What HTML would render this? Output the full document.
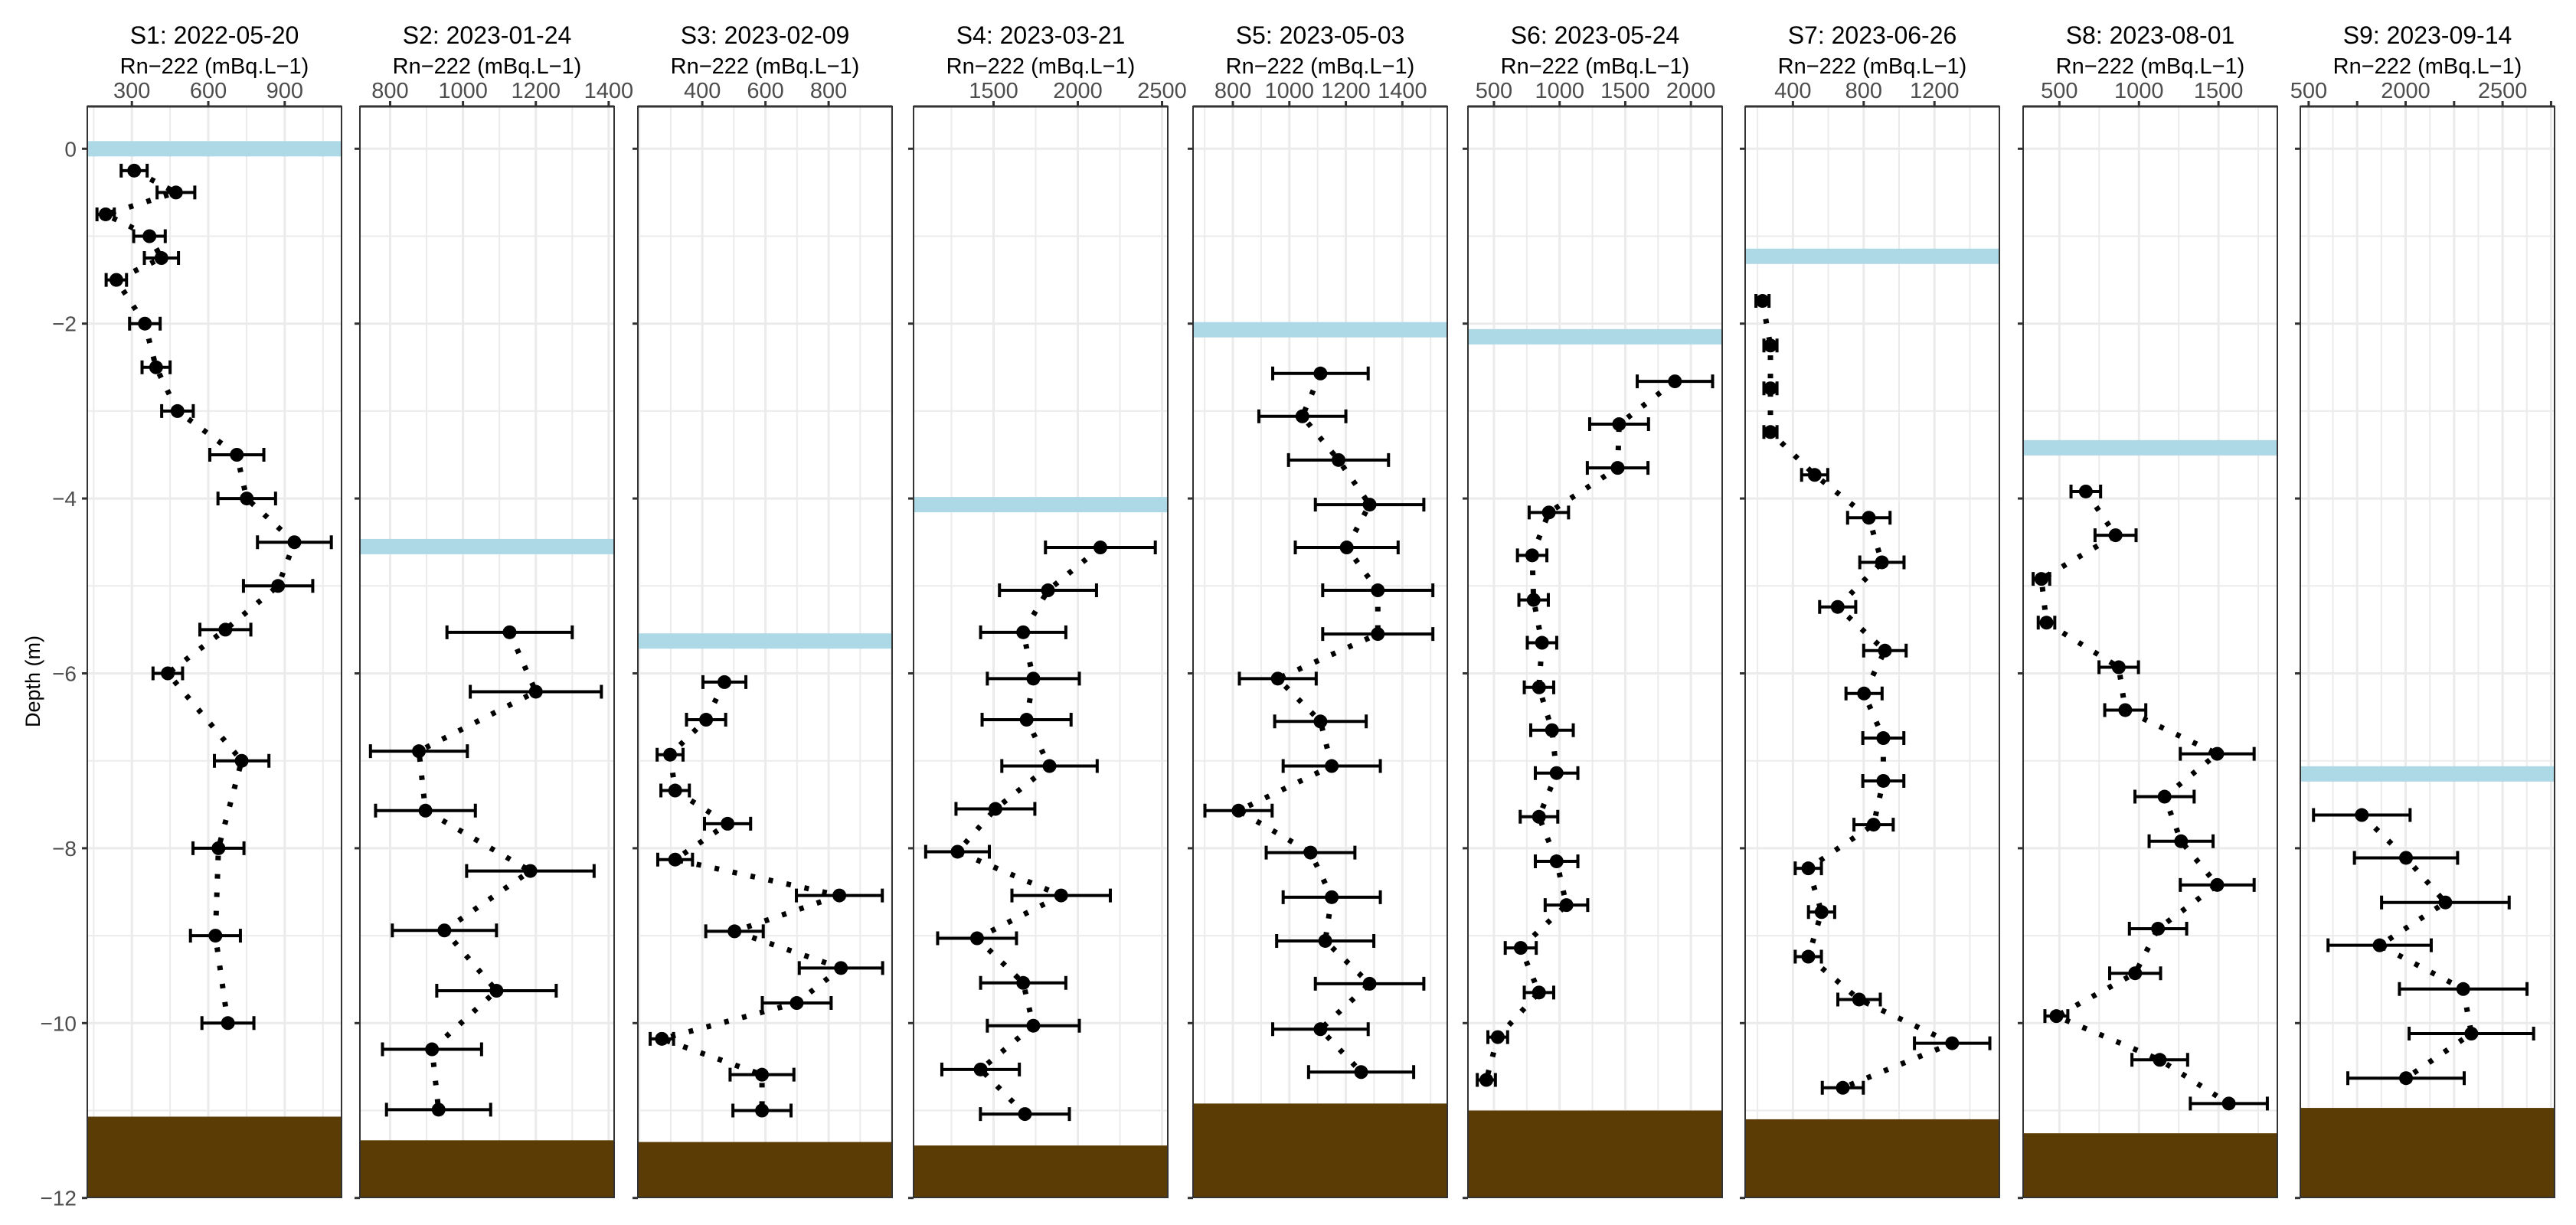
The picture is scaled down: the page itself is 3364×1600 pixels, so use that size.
<!DOCTYPE html>
<html><head><meta charset="utf-8">
<style>
html,body{margin:0;padding:0;background:#fff;}
svg{display:block;font-family:"Liberation Sans",Arial,sans-serif;}
</style></head>
<body>
<svg id="chart" width="3364" height="1600" viewBox="0 0 3364 1600" xmlns="http://www.w3.org/2000/svg">
<text x="0" y="0" transform="translate(52,890) rotate(-90)" text-anchor="middle" font-size="27" fill="#000">Depth (m)</text>
<g id="yaxis"></g>
<g id="panels"></g>
</svg>
<script>
// ---- data (depth in m, Rn-222 in mBq/L, error half-width) ----
const panelTitles = ["S1: 2022-05-20","S2: 2023-01-24","S3: 2023-02-09","S4: 2023-03-21","S5: 2023-05-03","S6: 2023-05-24","S7: 2023-06-26","S8: 2023-08-01","S9: 2023-09-14"];
const waterSurface = [0, -4.55, -5.63, -4.07, -2.07, -2.15, -1.23, -3.42, -7.15];
const sedimentTop = [-11.07, -11.34, -11.36, -11.40, -10.92, -11.0, -11.1, -11.26, -10.97];

const s1Depth = [-0.25,-0.5,-0.75,-1,-1.25,-1.5,-2,-2.5,-3,-3.5,-4,-4.5,-5,-5.5,-6,-7,-8,-9,-10];
const s1Val = [309,473,197,369,416,239,351,395,479,712,751,938,874,667,441,731,640,628,677];
const s1Err = [51,74,34,62,67,40,60,55,62,106,113,145,136,100,58,107,100,98,102];

const s2Depth = [-5.53,-6.21,-6.89,-7.57,-8.26,-8.94,-9.63,-10.3,-10.99];
const s2Val = [1128,1200,879,897,1185,949,1092,915,933];
const s2Err = [172,180,133,137,175,143,164,136,143];

const s3Depth = [-6.1,-6.53,-6.93,-7.34,-7.72,-8.13,-8.54,-8.95,-9.37,-9.77,-10.18,-10.59,-11.0];
const s3Val = [470,412,298,314,480,314,834,502,839,699,272,589,589];
const s3Err = [68,62,41,45,73,55,136,91,132,109,37,101,92];

const s4Depth = [-4.56,-5.05,-5.53,-6.06,-6.53,-7.06,-7.55,-8.04,-8.54,-9.03,-9.54,-10.03,-10.53,-11.04];
const s4Val = [2134,1823,1676,1736,1696,1832,1511,1286,1901,1402,1676,1736,1423,1686];
const s4Err = [326,288,253,273,264,283,234,189,292,234,253,273,230,264];

const s5Depth = [-2.57,-3.06,-3.56,-4.07,-4.56,-5.05,-5.55,-6.06,-6.55,-7.06,-7.57,-8.05,-8.56,-9.06,-9.55,-10.07,-10.56];
const s5Val = [1110,1046,1174,1284,1203,1313,1313,959,1110,1150,820,1075,1150,1127,1284,1110,1254];
const s5Err = [169,154,177,192,182,195,195,136,162,172,119,157,172,172,192,169,186];

const s6Depth = [-2.66,-3.15,-3.65,-4.16,-4.65,-5.16,-5.65,-6.16,-6.65,-7.14,-7.64,-8.15,-8.65,-9.14,-9.65,-10.16,-10.65];
const s6Val = [1878,1453,1442,918,791,802,866,843,942,977,843,977,1052,704,843,529,442];
const s6Err = [287,224,231,150,112,112,112,112,162,162,143,162,162,118,112,75,69];

const s7Depth = [-1.74,-2.25,-2.74,-3.24,-3.73,-4.22,-4.73,-5.24,-5.74,-6.23,-6.74,-7.23,-7.73,-8.23,-8.73,-9.24,-9.73,-10.23,-10.74];
const s7Val = [228,273,273,273,523,829,903,653,920,802,911,911,856,487,562,487,774,1300,682];
const s7Err = [37,37,37,37,74,120,125,102,120,102,116,116,111,74,74,74,120,213,116];

const s8Depth = [-3.92,-4.42,-4.92,-5.42,-5.93,-6.42,-6.92,-7.41,-7.92,-8.42,-8.92,-9.43,-9.92,-10.42,-10.92];
const s8Val = [666,853,387,419,873,914,1492,1161,1265,1492,1120,976,481,1131,1565];
const s8Err = [93,129,52,52,124,129,232,186,201,232,180,160,72,175,242];

const s9Depth = [-7.62,-8.11,-8.62,-9.11,-9.61,-10.12,-10.63];
const s9Val = [1774,2002,2205,1866,2297,2339,2002];
const s9Err = [249,266,329,266,329,321,300];

const xTickVals = [[300,600,900],[800,1000,1200,1400],[400,600,800],[1500,2000,2500],[800,1000,1200,1400],[500,1000,1500,2000],[400,800,1200],[500,1000,1500],[1500,1750,2000,2250,2500,2750]];
const xTickLabels = [["300","600","900"],["800","1000","1200","1400"],["400","600","800"],["1500","2000","2500"],["800","1000","1200","1400"],["500","1000","1500","2000"],["400","800","1200"],["500","1000","1500"],["500","","2000","","2500",""]];
const yTicks = [0,-2,-4,-6,-8,-10,-12];

// ---- layout (axis config) ----
const panelLeft = [114,470,833,1193,1558,1917,2279,2642,3004];
const panelW = 332;
const plotTop = 139, plotBottom = 1564;
const xDomains = [[125,1123],[717,1415],[196,1001],[1025,2534],[659,1559],[302,2238],[130,1567],[272,1870],[1457,2768]];
const allDepth = [s1Depth,s2Depth,s3Depth,s4Depth,s5Depth,s6Depth,s7Depth,s8Depth,s9Depth];
const allVal = [s1Val,s2Val,s3Val,s4Val,s5Val,s6Val,s7Val,s8Val,s9Val];
const allErr = [s1Err,s2Err,s3Err,s4Err,s5Err,s6Err,s7Err,s8Err,s9Err];

const NS = "http://www.w3.org/2000/svg";
function mk(tag, attrs, parent){const e=document.createElementNS(NS,tag);for(const k in attrs)e.setAttribute(k,attrs[k]);parent.appendChild(e);return e;}
function yScale(d){return 194.3 + (0 - d) * 114.2;}
function xScaleFor(i){const [a,b]=xDomains[i];const L=panelLeft[i];return v=>L+(v-a)/(b-a)*panelW;}

const yAxis=document.getElementById('yaxis');
yTicks.forEach(t=>{
  const y=yScale(t);
  const tx=mk('text',{x:100,y:y+10,'text-anchor':'end','font-size':28,fill:'#4d4d4d'},yAxis);
  
  
  tx.textContent=(t<0?'\u2212'+(-t):String(t));
});

const panels=document.getElementById('panels');
for(let i=0;i<9;i++){
  const g=mk('g',{},panels);
  
  
  const L=panelLeft[i], R=L+panelW, xs=xScaleFor(i);
  const cx=L+panelW/2;
  const clipId='clip'+i;
  const cp=mk('clipPath',{id:clipId},g);mk('rect',{x:L,y:plotTop,width:panelW,height:plotBottom-plotTop},cp);
  const t1=mk('text',{x:cx,y:57,'text-anchor':'middle','font-size':32,fill:'#000'},g);
  
  
  t1.textContent=panelTitles[i];
  const t2=mk('text',{x:cx,y:96,'text-anchor':'middle','font-size':29,fill:'#000'},g);
  
  
  t2.textContent='Rn\u2212222 (mBq.L\u22121)';
  const grid=mk('g',{'clip-path':'url(#'+clipId+')'},g);
  
  
  for(let d=1;d>=-12;d--){
    const gl=mk('line',{x1:L,x2:R,y1:yScale(d),y2:yScale(d),stroke:'#ebebeb','stroke-width':d%2===0?3:2},grid);
    
    
  }
  const tv=xTickVals[i];
  const step=tv[1]-tv[0];
  for(let v=tv[0]-2*step; v<=tv[tv.length-1]+2*step; v+=step/2){
    const major=Math.abs(((v-tv[0])/step)%1)<1e-6;
    const gl=mk('line',{x1:xs(v),x2:xs(v),y1:plotTop,y2:plotBottom,stroke:'#ebebeb','stroke-width':major?3:2},grid);
    
    
  }
  const wb=mk('rect',{x:L,y:yScale(waterSurface[i])-10,width:panelW,height:20,fill:'#add8e6','clip-path':'url(#'+clipId+')'},g);
  
  
  const sd=mk('rect',{x:L,y:yScale(sedimentTop[i]),width:panelW,height:plotBottom-yScale(sedimentTop[i]),fill:'#5c3c05'},g);
  
  
  const D=allDepth[i],V=allVal[i],E=allErr[i];
  const pts=D.map((d,k)=>xs(V[k]).toFixed(1)+','+yScale(d).toFixed(1)).join(' ');
  const pl=mk('polyline',{points:pts,fill:'none',stroke:'#000','stroke-width':7,'stroke-dasharray':'6 18','clip-path':'url(#'+clipId+')'},g);
  
  
  D.forEach((d,k)=>{
    const y=yScale(d), x0=xs(V[k]-E[k]), x1=xs(V[k]+E[k]);
    const eb=mk('path',{d:`M${x0},${y}H${x1}M${x0},${y-9}V${y+9}M${x1},${y-9}V${y+9}`,stroke:'#000','stroke-width':4,fill:'none'},g);
    
    
    const c=mk('circle',{cx:xs(V[k]),cy:y,r:9,fill:'#000'},g);
    
    
  });
  const br=mk('rect',{x:L,y:plotTop,width:panelW,height:plotBottom-plotTop,fill:'none',stroke:'#333','stroke-width':2},g);
  
  
  mk('line',{x1:L,x2:R,y1:plotTop,y2:plotTop,stroke:'#333','stroke-width':3},g);
  tv.forEach((v,k)=>{
    const x=xs(v);
    if(x<L-1||x>R+1) return;
    mk('line',{x1:x,x2:x,y1:plotTop,y2:plotTop-7,stroke:'#333','stroke-width':3},g);
    const lab=xTickLabels[i][k];
    if(lab){
      const tl=mk('text',{x:x,y:128,'text-anchor':'middle','font-size':29,fill:'#4d4d4d'},g);
      
      
      tl.textContent=lab;
    }
  });
  yTicks.forEach(t=>{mk('line',{x1:L-7,x2:L,y1:yScale(t),y2:yScale(t),stroke:'#333','stroke-width':3},g);});
}
</script>
</body></html>
